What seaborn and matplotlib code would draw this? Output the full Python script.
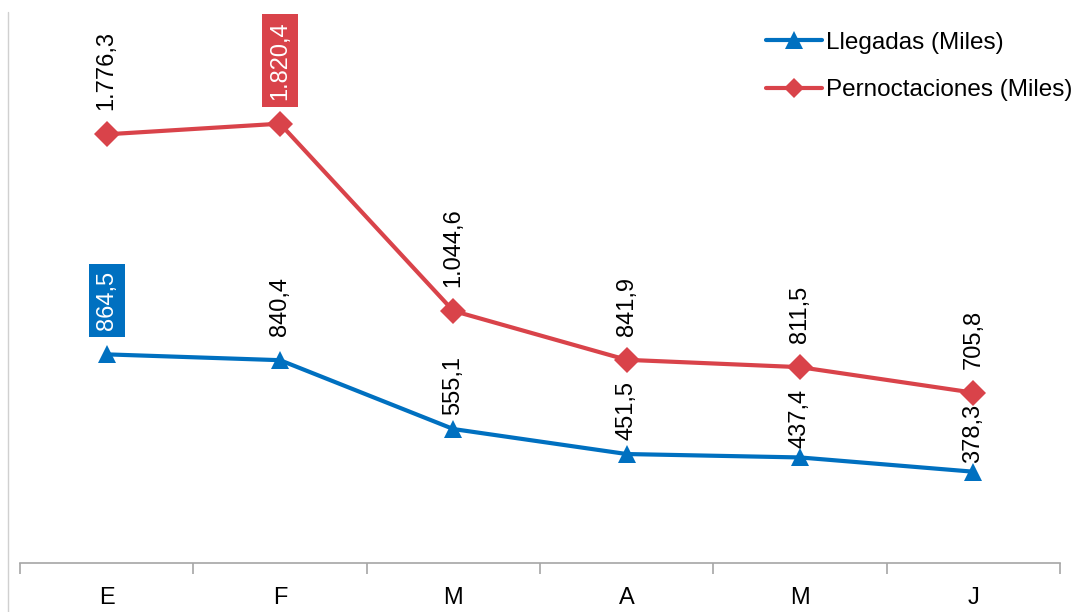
import matplotlib
matplotlib.use("Agg")
import matplotlib.pyplot as plt
import seaborn as sns
import pandas as pd
from matplotlib.lines import Line2D
from matplotlib.ticker import FixedLocator

months = ["E", "F", "M", "A", "M", "J"]
llegadas = [864.5, 840.4, 555.1, 451.5, 437.4, 378.3]
pernoctaciones = [1776.3, 1820.4, 1044.6, 841.9, 811.5, 705.8]
series_names = ["Llegadas (Miles)", "Pernoctaciones (Miles)"]

BLUE = "#0070C0"
RED = "#D9434A"

# label offsets (pixels above the point)
label_offsets = [[24, 24, 14, 14, 9, 9], [24, 24, 24, 24, 24, 24]]

sns.set_theme(style="white")
plt.rcParams["font.family"] = ["Liberation Sans", "DejaVu Sans"]
plt.rcParams["text.color"] = "black"
plt.rcParams["xtick.color"] = "black"

rows = []
for i, m in enumerate(months):
    rows.append({"x": i, "serie": series_names[0], "valor": llegadas[i]})
    rows.append({"x": i, "serie": series_names[1], "valor": pernoctaciones[i]})
df = pd.DataFrame(rows)

fig = plt.figure(figsize=(10.86, 6.12), dpi=100)
ax = fig.add_axes([20 / 1086, 1 - 563 / 612, 1040 / 1086, (563 - 20) / 612])

sns.lineplot(data=df, x="x", y="valor", hue="serie", style="serie",
             palette={series_names[0]: BLUE, series_names[1]: RED},
             markers={series_names[0]: "^", series_names[1]: "D"},
             dashes=False, markersize=13, linewidth=3.0,
             markeredgewidth=0, ax=ax)

ax.set_xlim(-0.5, len(months) - 0.5)
ax.set_ylim(0, 2250)
ax.set_xlabel("")
ax.set_ylabel("")
ax.set_yticks([])
ax.set_xticks(range(len(months)))
ax.set_xticklabels(months, fontsize=17, color="black")
ax.xaxis.set_minor_locator(FixedLocator([i - 0.5 for i in range(len(months) + 1)]))
ax.tick_params(axis="x", which="major", length=0, pad=17)
ax.tick_params(axis="x", which="minor", length=8, width=1.2, color="#A6A6A6",
               direction="out", bottom=True)
for s in ["top", "right", "left"]:
    ax.spines[s].set_visible(False)
ax.spines["bottom"].set_color("#A6A6A6")
ax.spines["bottom"].set_linewidth(1.2)

def fmt(v):
    s = f"{v:,.1f}"
    return s.replace(",", "X").replace(".", ",").replace("X", ".")

highlight = {(0, 0), (1, 1)}
for si, (vals, col) in enumerate([(llegadas, BLUE), (pernoctaciones, RED)]):
    for i, v in enumerate(vals):
        off = label_offsets[si][i]
        if (si, i) in highlight:
            ax.annotate(fmt(v), (i, v), xytext=(0, off), textcoords="offset pixels",
                        rotation=90, ha="center", va="bottom", fontsize=17,
                        color="white",
                        bbox=dict(boxstyle="square,pad=0.3", fc=col, ec="none"))
        else:
            ax.annotate(fmt(v), (i, v), xytext=(0, off), textcoords="offset pixels",
                        rotation=90, ha="center", va="bottom", fontsize=17,
                        color="black")

handles = [Line2D([0], [0], color=BLUE, lw=3.0, marker="^", markersize=13, markeredgewidth=0),
           Line2D([0], [0], color=RED, lw=3.0, marker="D", markersize=10, markeredgewidth=0)]
leg = ax.legend(handles, series_names, loc="upper right", bbox_to_anchor=(1.028, 1.01),
                frameon=False, fontsize=17.5, handlelength=2.3, handletextpad=0.15,
                labelspacing=1.05, borderaxespad=0.3)
for t in leg.get_texts():
    t.set_color("black")

fig.add_artist(Line2D([8 / 1086, 8 / 1086], [0, 1 - 12 / 612],
                      transform=fig.transFigure, color="#D0D0D0", lw=1))

fig.savefig("out.png", dpi=100, facecolor="white")
